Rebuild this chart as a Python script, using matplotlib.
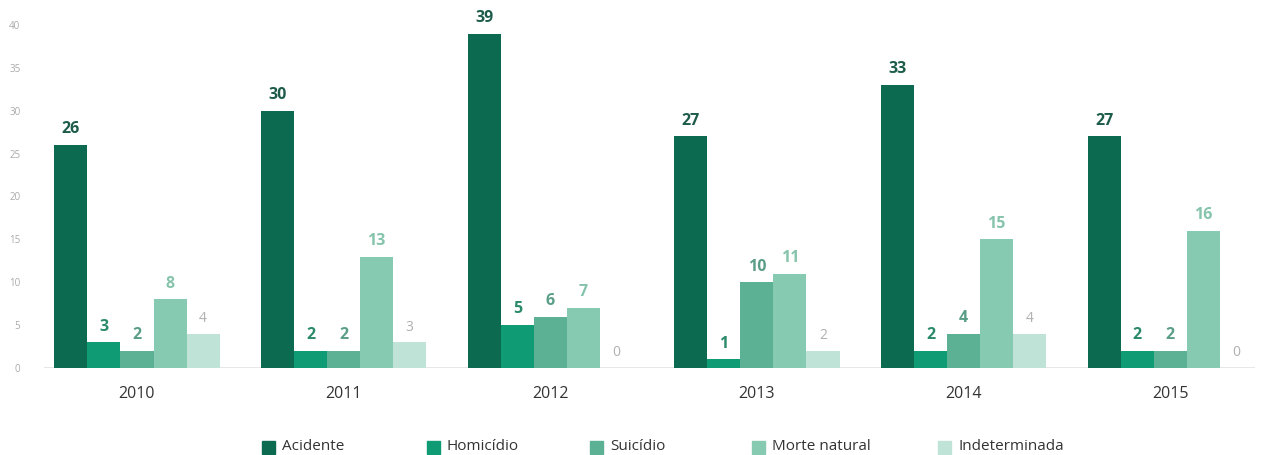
import numpy as np
import matplotlib.pyplot as plt
from matplotlib.patches import Rectangle

plt.rcParams['font.family'] = ['Open Sans', 'DejaVu Sans']

# Data
years = ["2010", "2011", "2012", "2013", "2014", "2015"]
categories = ["Acidente", "Homicídio", "Suicídio", "Morte natural", "Indeterminada"]
acidente = [26, 30, 39, 27, 33, 27]
homicidio = [3, 2, 5, 1, 2, 2]
suicidio = [2, 2, 6, 10, 4, 2]
morte_natural = [8, 13, 7, 11, 15, 16]
indeterminada = [4, 3, 0, 2, 4, 0]
series = [acidente, homicidio, suicidio, morte_natural, indeterminada]

bar_colors = ["#0b6a4f", "#0f9b73", "#5cb195", "#86cbb1", "#bfe3d6"]
label_colors = ["#1d5c4a", "#2a8a6a", "#5a9e88", "#86c4ac", "#b0b0b0"]
label_weights = ["bold", "bold", "bold", "bold", "normal"]
label_sizes = [11.5, 11.5, 11.5, 11.5, 10]

W, H = 1263, 455
fig = plt.figure(figsize=(W / 100, H / 100), dpi=100)
ax = fig.add_axes([44 / W, (H - 368) / H, (1255 - 44) / W, 343 / H])

x = np.arange(len(years))
w = 33 / 206.5
for k, vals in enumerate(series):
    pos = x + (k - 2) * w
    ax.bar(pos, vals, width=w, color=bar_colors[k], linewidth=0, zorder=2)
    for xp, v in zip(pos, vals):
        ax.annotate(str(v), (xp, v), xytext=(0, 5.5), textcoords="offset points",
                    ha="center", va="bottom", fontsize=label_sizes[k],
                    fontweight=label_weights[k], color=label_colors[k])

ax.axhline(0, color="#e3e3e3", linewidth=1.2, zorder=1)
ax.set_xlim(-0.45, 5.41)
ax.set_ylim(0, 40)
ax.set_yticks(range(0, 41, 5))
ax.set_xticks(x)
ax.set_xticklabels(years)
ax.tick_params(axis="y", length=0, labelsize=7, labelcolor="#aaaaaa", pad=17)
ax.tick_params(axis="x", length=0, labelsize=11.5, labelcolor="#333333", pad=13)
for s in ax.spines.values():
    s.set_visible(False)

# legend drawn by hand to match spacing
leg_x = [262, 427, 590, 752, 938]
for k, name in enumerate(categories):
    fig.add_artist(Rectangle((leg_x[k] / W, (H - 454) / H), 13 / W, 13 / H,
                             transform=fig.transFigure, color=bar_colors[k]))
    fig.text((leg_x[k] + 20) / W, (H - 447) / H, name, fontsize=11,
             color="#333333", va="center", ha="left")

fig.savefig("out.png", dpi=100)
